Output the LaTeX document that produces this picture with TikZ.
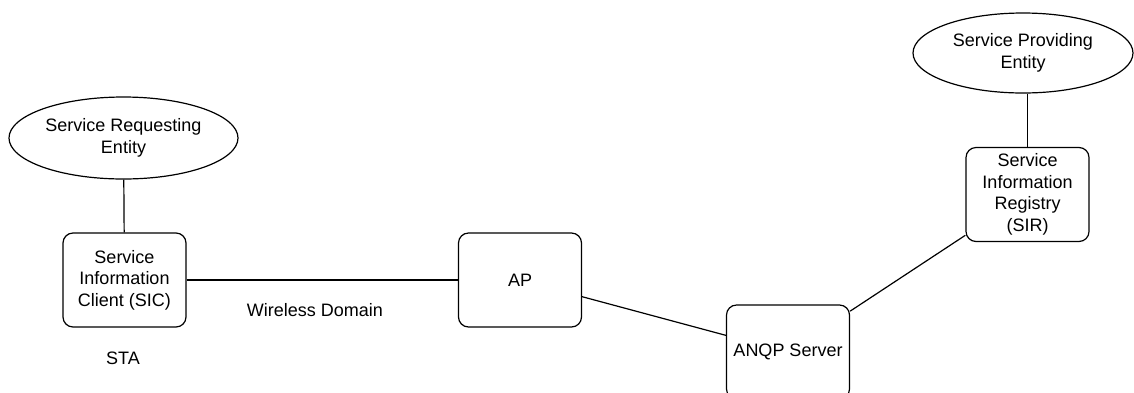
\documentclass[tikz,border=0pt]{standalone}
\usepackage{fontspec}
\setmainfont{Liberation Sans}
\usetikzlibrary{shapes.geometric}
\tikzset{
  entity/.style={draw, ellipse, minimum width=229pt, minimum height=82pt, inner sep=0pt, align=center},
  unitbox/.style={draw, rounded corners=10pt, minimum width=123pt, minimum height=94pt, inner sep=0pt, align=center},
}
\begin{document}
\begin{tikzpicture}[x=1pt,y=-1pt,line width=1.2pt,font=\fontsize{18}{21.5}\selectfont]
\useasboundingbox (0,0) rectangle (1134,392);
% station side
\node [entity] (sre) at (123.5,138) {Service Requesting\\Entity};
\node [unitbox] (sic) at (124.5,280) {Service\\Information\\Client (SIC)};
\node (wd) at (315,310) {Wireless Domain};
\node (sta) at (123,358) {STA};
% network side
\node [unitbox] (ap) at (520,280) {AP};
\node [unitbox] (anqp) at (788,352) {ANQP Server};
\node [unitbox] (sir) at (1027.5,194.5) {Service\\Information\\Registry\\(SIR)};
\node [entity, minimum width=220pt, minimum height=80pt] (spe) at (1023,53) {Service Providing\\Entity};
% links
\draw (sre) -- (sic);
\draw (sic) -- (ap);
\draw (ap) -- (anqp);
\draw (anqp) -- (sir);
\draw (sir.north) -- (sir.north |- spe.south);
\end{tikzpicture}
\end{document}
